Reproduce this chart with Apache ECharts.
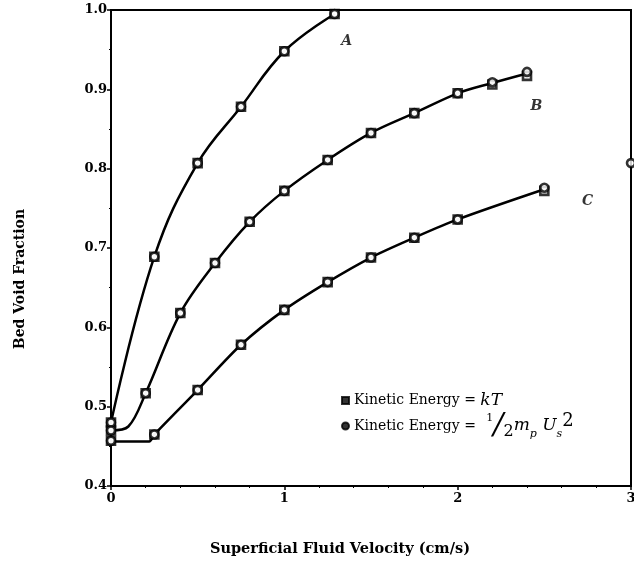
<!DOCTYPE html>
<html><head><meta charset="utf-8">
<script src="https://cdn.jsdelivr.net/npm/echarts@6/dist/echarts.min.js"></script>
<style>html,body{margin:0;padding:0;background:#fff}#c{width:634px;height:567px}</style>
</head><body><div id="c"></div>
<script>
// Curve A (markers)
const xA = [0, 0.25, 0.5, 0.75, 1.0, 1.29];
const yA = [0.48, 0.689, 0.807, 0.878, 0.948, 0.995];
// Curve B (markers)
const xB = [0, 0.2, 0.4, 0.6, 0.8, 1.0, 1.25, 1.5, 1.75, 2.0, 2.2, 2.4];
const yB_circ = [0.47, 0.517, 0.618, 0.681, 0.733, 0.772, 0.811, 0.845, 0.870, 0.895, 0.909, 0.922];
const yB_sq = [0.47, 0.517, 0.618, 0.681, 0.733, 0.772, 0.811, 0.845, 0.870, 0.895, 0.906, 0.917];
// Curve B line shape
const xBline = [0, 0.1, 0.2, 0.4, 0.6, 0.8, 1.0, 1.25, 1.5, 1.75, 2.0, 2.2, 2.4];
const yBline = [0.47, 0.475, 0.517, 0.618, 0.681, 0.733, 0.772, 0.811, 0.845, 0.870, 0.895, 0.908, 0.92];
// Curve C (markers)
const xC = [0, 0.25, 0.5, 0.75, 1.0, 1.25, 1.5, 1.75, 2.0, 2.5];
const yC_circ = [0.457, 0.465, 0.521, 0.578, 0.622, 0.657, 0.688, 0.713, 0.736, 0.776];
const yC_sq = [0.457, 0.465, 0.521, 0.578, 0.622, 0.657, 0.688, 0.713, 0.736, 0.772];
// Curve C line shape
const xCline = [0, 0.22, 0.25, 0.5, 0.75, 1.0, 1.25, 1.5, 1.75, 2.0, 2.5];
const yCline = [0.456, 0.456, 0.465, 0.521, 0.578, 0.622, 0.657, 0.688, 0.713, 0.736, 0.774];
// stray point on right border
const xStray = [3.0];
const yStray = [0.807];
// Curve labels
const curveNames = ['A', 'B', 'C'];
const curveLabelX = [1.36, 2.455, 2.75];
const curveLabelY = [0.96, 0.879, 0.759];
// Axis ticks
const xTicks = [0, 1, 2, 3];
const yTicks = [0.4, 0.5, 0.6, 0.7, 0.8, 0.9, 1.0];

const zip = (xs, ys) => xs.map((x, i) => [x, ys[i]]);
const FONT = 'DejaVu Serif';

const lineStyle = { color: '#000', width: 2.5 };
function curve(xs, ys, s) {
  return { type: 'line', data: zip(xs, ys), smooth: s, showSymbol: false, symbol: 'none', lineStyle: lineStyle, z: 2, silent: true };
}
const markStyle = { color: '#fff', borderColor: '#000', borderWidth: 2.6 };

const chart = echarts.init(document.getElementById('c'), null, { renderer: 'canvas' });
chart.setOption({
  animation: false,
  backgroundColor: '#fff',
  grid: { left: 111, right: 3, top: 10, bottom: 81, show: true, borderColor: '#000', borderWidth: 2, backgroundColor: 'transparent', outerBoundsMode: 'none', containLabel: false },
  xAxis: {
    type: 'value', min: 0, max: 3, interval: 1,
    name: 'Superficial Fluid Velocity (cm/s)', nameLocation: 'middle', nameGap: 56,
    nameTextStyle: { fontFamily: FONT, fontWeight: 'bold', fontSize: 14.5, color: '#000', padding: [0, 62, 0, 0] },
    axisLine: { show: true, lineStyle: { color: '#000', width: 2 } },
    axisTick: { show: true, inside: false, length: 4, lineStyle: { color: '#000', width: 1.5 } },
    minorTick: { show: true, splitNumber: 5, length: 2, lineStyle: { color: '#000', width: 1 } },
    splitLine: { show: false },
    axisLabel: { fontFamily: FONT, fontWeight: 'bold', fontSize: 13, color: '#000', margin: 6,
      formatter: v => xTicks.includes(v) ? String(v) : '' }
  },
  yAxis: {
    type: 'value', min: 0.4, max: 1.0, interval: 0.1,
    name: 'Bed Void Fraction', nameLocation: 'middle', nameGap: 84,
    nameTextStyle: { fontFamily: FONT, fontWeight: 'bold', fontSize: 14, color: '#000', padding: [0, 62, 0, 0] },
    axisLine: { show: true, lineStyle: { color: '#000', width: 2 } },
    axisTick: { show: true, inside: false, length: 4, lineStyle: { color: '#000', width: 1.5 } },
    minorTick: { show: true, splitNumber: 2, length: 2, lineStyle: { color: '#000', width: 1 } },
    splitLine: { show: false },
    axisLabel: { fontFamily: FONT, fontWeight: 'bold', fontSize: 13, color: '#000', margin: 4,
      formatter: v => { const r = Math.round(v * 10) / 10; return yTicks.includes(r) ? r.toFixed(1) : ''; } }
  },
  legend: {
    orient: 'vertical', left: 336, top: 387, itemGap: 2, itemWidth: 7, itemHeight: 7,
    data: [
      { name: 'sq', icon: 'rect', itemStyle: { color: '#000', borderColor: '#000' } },
      { name: 'ci', icon: 'circle', itemStyle: { color: '#000', borderColor: '#000' } }
    ],
    selectedMode: false,
    formatter: n => n === 'sq'
      ? '{t|Kinetic Energy = }{i|kT}'
      : '{t|Kinetic Energy = }{one|1}{sl|/}{two|2}{i|m}{sub|p}{i| U}{sub|s}{sup|2}',
    textStyle: {
      color: '#000', fontFamily: FONT, fontSize: 14,
      rich: {
        t: { fontFamily: FONT, fontSize: 14, color: '#000', lineHeight: 28, verticalAlign: 'middle' },
        i: { fontFamily: FONT, fontSize: 17, fontStyle: 'italic', color: '#000', lineHeight: 28, verticalAlign: 'middle' },
        one: { fontFamily: FONT, fontSize: 11, color: '#000', verticalAlign: 'top', lineHeight: 28, padding: [1, 0, 0, 6] },
        sl: { fontFamily: FONT, fontSize: 30, fontStyle: 'italic', color: '#000', lineHeight: 28, verticalAlign: 'middle' },
        two: { fontFamily: FONT, fontSize: 16, color: '#000', verticalAlign: 'bottom', lineHeight: 28 },
        sub: { fontFamily: FONT, fontSize: 11, fontStyle: 'italic', color: '#000', verticalAlign: 'bottom', lineHeight: 28 },
        sup: { fontFamily: FONT, fontSize: 18, color: '#000', verticalAlign: 'top', lineHeight: 28 }
      }
    }
  },
  series: [
    curve(xA, yA, 0.4),
    curve(xBline, yBline, 0.35),
    curve(xCline, yCline, 0.3),
    { name: 'sq', type: 'scatter', symbol: 'rect', symbolSize: 8, itemStyle: markStyle, z: 3,
      data: zip(xA, yA).concat(zip(xB, yB_sq), zip(xC, yC_sq)) },
    { name: 'ci', type: 'scatter', symbol: 'circle', symbolSize: 8, itemStyle: markStyle, z: 4,
      data: zip(xA, yA).concat(zip(xB, yB_circ), zip(xC, yC_circ), zip(xStray, yStray)) },
    { type: 'scatter', symbolSize: 0, silent: true, z: 5,
      data: curveNames.map((n, i) => ({ name: n, value: [curveLabelX[i], curveLabelY[i]] })),
      label: { show: true, position: 'inside', formatter: '{b}', fontFamily: FONT, fontStyle: 'italic', fontWeight: 'bold', fontSize: 14, color: '#000' } }
  ]
});
</script></body></html>
